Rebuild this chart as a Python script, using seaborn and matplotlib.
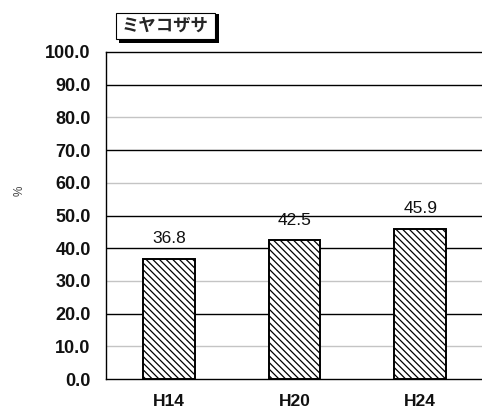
import matplotlib
matplotlib.use("Agg")
import matplotlib.pyplot as plt
from matplotlib.patches import Rectangle
from matplotlib.ticker import FixedLocator
import seaborn as sns
import pandas as pd

years = ["H14", "H20", "H24"]
values = [36.8, 42.5, 45.9]
yticks = [0, 10, 20, 30, 40, 50, 60, 70, 80, 90, 100]
dark_grid = [20, 40, 50, 70, 90]
light_grid = [10, 30, 60, 80]
title = "ミヤコザサ"

sns.set_theme(style="white")
plt.rcParams["font.family"] = ["Liberation Sans", "DejaVu Sans"]
plt.rcParams["hatch.linewidth"] = 0.9
plt.rcParams["hatch.color"] = "black"

W, H = 482, 412
fig = plt.figure(figsize=(W / 100, H / 100), dpi=100)
ax = fig.add_axes([106 / W, 1 - 379 / H, 377 / W, (379 - 52) / H])

df = pd.DataFrame({"year": years, "value": values})
sns.barplot(data=df, x="year", y="value", ax=ax, color="white", saturation=1,
            width=0.41, edgecolor="black", linewidth=1.4, hatch="\\\\\\\\\\", zorder=3)

for g in dark_grid:
    ax.axhline(g, color="black", lw=1.0, zorder=1)
for g in light_grid:
    ax.axhline(g, color="#c4c4c4", lw=1.0, zorder=1)

ax.set_ylim(0, 100)
ax.set_xlim(-0.5, 2.5)
ax.set_yticks(yticks)
ax.set_yticklabels([f"{v:.1f}" for v in yticks], fontsize=13, fontweight="bold")
ax.tick_params(axis="y", length=0, pad=11, labelcolor="#111111")
ax.tick_params(axis="x", which="major", length=0, pad=11, labelsize=12.5,
               labelcolor="#111111")
for lab in ax.get_xticklabels():
    lab.set_fontweight("bold")
ax.xaxis.set_minor_locator(FixedLocator([0.5, 1.5]))
ax.tick_params(axis="x", which="minor", direction="in", length=4, width=1, color="black")
ax.set_xlabel("")
ax.set_ylabel("")

# unit label on the left
fig.text(20 / W, 1 - 191 / H, "%", rotation=90, ha="center", va="center",
         fontsize=8.5, color="#444444")

for s in ["left", "bottom", "top"]:
    ax.spines[s].set_visible(True)
    ax.spines[s].set_color("black")
    ax.spines[s].set_linewidth(1.0)
ax.spines["right"].set_visible(False)

for c in ax.containers:
    ax.bar_label(c, labels=[f"{v:.1f}" for v in values], padding=9, fontsize=12.5,
                 color="#111111")

# title box with drop shadow
fig.patches.append(Rectangle((119 / W, 1 - 43 / H), 100 / W, 29 / H,
                             transform=fig.transFigure, facecolor="black",
                             edgecolor="none", zorder=1))
fig.patches.append(Rectangle((116 / W, 1 - 39 / H), 99 / W, 26 / H,
                             transform=fig.transFigure, facecolor="white",
                             edgecolor="black", linewidth=0.8, zorder=2))
fig.text(165.5 / W, 1 - 26 / H, title, ha="center", va="center", fontsize=12.5,
         fontweight="bold", family=["Noto Sans CJK JP", "DejaVu Sans"], zorder=3)

fig.savefig("out.png", dpi=100)
